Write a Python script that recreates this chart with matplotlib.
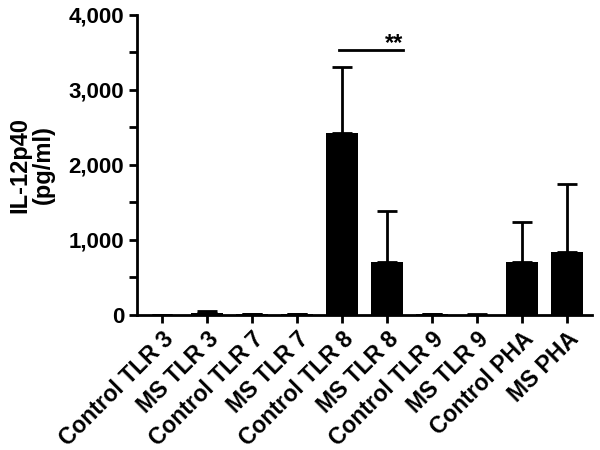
import matplotlib
matplotlib.use("Agg")
import matplotlib.pyplot as plt
from matplotlib.ticker import MultipleLocator, FuncFormatter

plt.rcParams['font.family'] = ['Liberation Sans', 'DejaVu Sans']
plt.rcParams['font.weight'] = 'bold'

groups = ["Control TLR 3", "MS TLR 3", "Control TLR 7", "MS TLR 7", "Control TLR 8",
          "MS TLR 8", "Control TLR 9", "MS TLR 9", "Control PHA", "MS PHA"]
means = [3, 30, 8, 8, 2420, 710, 10, 6, 705, 840]
errs = [2, 20, 6, 8, 880, 670, 8, 4, 535, 910]

fig = plt.figure(figsize=(6, 4.5), dpi=100)
ax = fig.add_axes([0.228, 0.30, 0.759, 0.667])

x = list(range(len(groups)))
ax.bar(x, means, width=0.71, color="black", zorder=2)
ax.errorbar(x, means, yerr=[[0] * len(errs), errs], fmt="none", ecolor="black",
            elinewidth=2, capsize=7, capthick=2, zorder=1)

# significance bar
ax.plot([3.93, 5.36], [3530, 3530], color="black", lw=2)
ax.text(5.36, 3470, "**", ha="right", va="bottom", fontsize=17, fontweight="bold")

ax.set_xlim(-0.556, 9.55)
ax.set_ylim(0, 4000)
ax.yaxis.set_major_locator(MultipleLocator(1000))
ax.yaxis.set_minor_locator(MultipleLocator(500))
ax.yaxis.set_major_formatter(FuncFormatter(lambda v, p: f"{int(v):,}"))

ax.set_xticks(x)
ax.set_xticklabels(groups, rotation=45, ha="right", rotation_mode="anchor",
                   fontsize=16.5, fontweight="bold")
for lab in ax.get_yticklabels():
    lab.set_fontsize(16)
    lab.set_fontweight("bold")

ax.tick_params(axis="both", which="both", direction="out", width=2, length=6)
ax.tick_params(axis="y", which="both", pad=3)
ax.tick_params(axis="x", pad=3)
ax.spines["top"].set_visible(False)
ax.spines["right"].set_visible(False)
ax.spines["left"].set_linewidth(2)
ax.spines["bottom"].set_linewidth(2)

ax.set_ylabel("IL-12p40\n(pg/ml)", fontsize=17, fontweight="bold", labelpad=10,
              linespacing=1.0)

fig.savefig("out.png", dpi=100)
